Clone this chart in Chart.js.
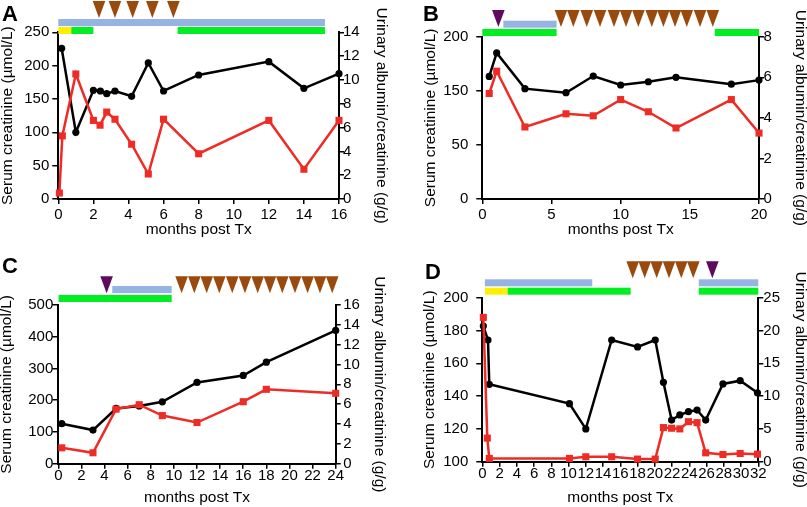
<!DOCTYPE html>
<html>
<head>
<meta charset="utf-8">
<script src="https://cdn.jsdelivr.net/npm/chart.js@4"></script>
<style>
  body { margin: 0; width: 807px; height: 507px; overflow: hidden; background: #fff; font-family: "Liberation Sans", Arial, sans-serif; }
  .panel { position: absolute; }
  .lbl { position: absolute; font-weight: bold; font-size: 22px; line-height: 22px; }
</style>
</head>
<body>
<div class="panel" style="left:0;top:0"><canvas id="cA" width="403" height="252"></canvas></div>
<div class="panel" style="left:403px;top:0"><canvas id="cB" width="407" height="252"></canvas></div>
<div class="panel" style="left:0;top:252px"><canvas id="cC" width="403" height="255"></canvas></div>
<div class="panel" style="left:403px;top:252px"><canvas id="cD" width="407" height="255"></canvas></div>
<div class="lbl" style="left:2px;top:3px">A</div>
<div class="lbl" style="left:423px;top:3px">B</div>
<div class="lbl" style="left:2px;top:255px">C</div>
<div class="lbl" style="left:425px;top:261px">D</div>
<script>
// panel A
let mesesA = [0.19, 1.0, 2.0, 2.4, 2.76, 3.23, 4.18, 5.13, 6.0, 8.0, 12.0, 14.0, 16.0];
let creatA = [226, 100, 163, 162, 158, 162, 154, 204, 162, 186, 206, 166, 188];
let mesesAlbA = [0.06, 0.23, 1.0, 2.0, 2.38, 2.76, 3.23, 4.18, 5.13, 6.0, 8.0, 12.0, 14.0, 16.0];
let albA = [0.5, 5.3, 10.5, 6.6, 6.2, 7.3, 6.7, 4.6, 2.1, 6.7, 3.8, 6.6, 2.5, 6.6];
let azulA = [[0, 15.2]];
let amareloA = [[0, 0.74]];
let verdeA = [[0.74, 2.0], [6.8, 15.2]];
let marromA = [2.32, 3.23, 4.24, 5.36, 6.56];
let roxoA = [];

// panel B
let mesesB = [0.5, 1.04, 3.08, 6.05, 8.02, 10.0, 12.0, 14.0, 18.0, 20.0];
let creatB = [151, 180, 136, 131, 151.5, 140.5, 144.5, 150, 141.5, 146.5];
let albB = [5.2, 6.3, 3.55, 4.2, 4.1, 4.9, 4.3, 3.5, 4.9, 3.25];
let ticksEsqB = [0, 66.67, 133.33, 200];
let rotulosEsqB = ["0", "50", "150", "200"];
let azulB = [[1.52, 5.37]];
let amareloB = [];
let verdeB = [[0, 5.37], [16.8, 20]];
let marromB = [5.69, 6.58, 7.55, 8.51, 9.52, 10.39, 11.28, 12.25, 13.09, 13.93, 14.78, 15.74, 16.66];
let roxoB = [1.16];

// panel C
let mesesC = [0.3, 3.0, 5.0, 7.0, 9.0, 12.0, 16.0, 18.0, 24.0];
let creatC = [126, 106, 174, 182, 195, 256, 278, 320, 420];
let albC = [1.6, 1.1, 5.5, 5.95, 4.85, 4.15, 6.25, 7.5, 7.1];
let azulC = [[4.67, 9.81]];
let amareloC = [];
let verdeC = [[0.02, 9.81]];
let marromC = [10.67, 11.77, 12.84, 13.93, 15.05, 16.15, 17.25, 18.31, 19.38, 20.48, 21.57, 22.64, 23.7];
let roxoC = [4.18];

// panel D
let mesesD = [0.12, 0.66, 0.81, 10.1, 12.0, 15.0, 18.0, 20.05, 21.0, 21.95, 22.9, 23.9, 24.9, 25.9, 27.9, 29.9, 31.9];
let creatD = [182.7, 174.2, 147.2, 135.4, 120, 174.2, 170, 174.2, 148.4, 125.4, 128.5, 130.5, 131.5, 125.4, 147.4, 149.4, 142];
let mesesAlbD = [0.12, 0.58, 0.81, 10.1, 12.0, 15.0, 18.0, 20.05, 21.0, 21.95, 22.9, 23.9, 24.9, 25.9, 27.9, 29.9, 31.9];
let albD = [22, 3.6, 0.5, 0.5, 0.75, 0.75, 0.4, 0.4, 5.2, 5.1, 5.0, 6.1, 5.95, 1.35, 1.1, 1.25, 1.15];
let azulD = [[0.3, 12.75], [25.1, 32]];
let amareloD = [[0.3, 2.94]];
let verdeD = [[2.94, 17.2], [25.1, 32]];
let marromD = [17.44, 18.83, 20.22, 21.65, 23.07, 24.46];
let roxoD = [26.67];

Chart.defaults.font.family = '"Liberation Sans", Arial, sans-serif';
Chart.defaults.color = "#000";

const pares = (xs, ys) => xs.map((x, i) => ({ x: x, y: ys[i] }));

// barras de tratamento e triangulos desenhados pela escala x
function plugTratamento(t) {
  return {
    id: "tratamento",
    afterDraw(chart) {
      const ctx = chart.ctx, sx = chart.scales.x, top = chart.chartArea.top;
      const px = v => sx.getPixelForValue(v);
      ctx.save();
      const faixa = (lista, cor, y) => {
        ctx.fillStyle = cor;
        lista.forEach(([a, b]) => ctx.fillRect(px(a), top + y, px(b) - px(a), 7));
      };
      faixa(t.azul, "#95b4e2", t.azulY);
      faixa(t.amarelo, "#ffee00", t.verdeY);
      faixa(t.verde, "#00ee22", t.verdeY);
      const tri = (lista, cor) => {
        ctx.fillStyle = cor;
        lista.forEach(m => {
          const cx = px(m), yb = top + t.triY;
          ctx.beginPath();
          ctx.moveTo(cx - 6.3, yb - 17);
          ctx.lineTo(cx + 6.3, yb - 17);
          ctx.lineTo(cx, yb);
          ctx.closePath();
          ctx.fill();
        });
      };
      tri(t.marrom, "#9a4a0c");
      tri(t.roxo, "#5e0b5e");
      ctx.restore();
    }
  };
}

function eixo(tam) {
  return {
    grid: { drawOnChartArea: false, color: "#000", lineWidth: 1.5, tickLength: tam },
    border: { color: "#000", width: 2 }
  };
}

function criarPainel(id, p) {
  const ctx = document.getElementById(id).getContext("2d");
  const W = ctx.canvas.width, H = ctx.canvas.height;
  const esq = Object.assign(eixo(6), {
    type: "linear", position: "left", min: p.esq[0], max: p.esq[1],
    ticks: { stepSize: p.esq[2], font: { size: 15 }, padding: p.padEsq, autoSkip: false },
    title: { display: true, text: "Serum creatinine (µmol/L)", font: { size: 15.5 }, padding: p.titEsq },
    afterFit: s => { s.width = p.area[0]; }
  });
  if (p.ticksEsq) {
    esq.afterBuildTicks = s => { s.ticks = p.ticksEsq.map(v => ({ value: v })); };
    esq.ticks.callback = (v, i) => p.rotulosEsq[i];
  }
  new Chart(ctx, {
    type: "line",
    data: {
      datasets: [{
        data: p.alb, yAxisID: "y1",
        borderColor: "#ee2b25", backgroundColor: "#ee2b25", borderWidth: 2.5,
        pointStyle: "rect", pointRadius: 5, pointBorderWidth: 0, tension: 0, clip: false
      }, {
        data: p.creat, yAxisID: "y",
        borderColor: "#000", backgroundColor: "#000", borderWidth: 2.5,
        pointStyle: "circle", pointRadius: 3.6, pointBorderWidth: 0, tension: 0, clip: false
      }]
    },
    options: {
      responsive: false,
      animation: false,
      devicePixelRatio: 1,
      layout: { padding: { top: p.area[2], left: 0, right: 0, bottom: 0 } },
      plugins: { legend: { display: false }, tooltip: { enabled: false } },
      scales: {
        x: Object.assign(eixo(5), {
          type: "linear", min: 0, max: p.xMax,
          ticks: { stepSize: p.xStep, font: { size: 15 }, padding: p.xPad, maxRotation: 0, autoSkip: false },
          title: { display: true, text: "months post Tx", font: { size: 15.5 }, padding: p.titX },
          afterFit: s => { s.height = H - p.area[3]; }
        }),
        y: esq,
        y1: Object.assign(eixo(5), {
          type: "linear", position: "right", min: 0, max: p.dir[0],
          ticks: { stepSize: p.dir[1], font: { size: 15 }, padding: p.padDir, autoSkip: false },
          title: { display: true, text: "Urinary albumin/creatinine (g/g)", font: { size: 15.5 }, padding: p.titDir },
          afterFit: s => { s.width = W - p.area[1]; }
        })
      }
    },
    plugins: [plugTratamento(p.trat)]
  });
}

window.onload = function () {
  criarPainel("cA", {
    creat: pares(mesesA, creatA), alb: pares(mesesAlbA, albA),
    esq: [0, 250, 50], dir: [14, 2], xMax: 16, xStep: 2, xPad: 2, padEsq: 3, padDir: -1,
    area: [58.3, 339, 32.3, 199], titEsq: -1.8, titDir: 12.2, titX: 12.7,
    trat: { azul: azulA, amarelo: amareloA, verde: verdeA, marrom: marromA, roxo: roxoA, azulY: -13.3, verdeY: -5.3, triY: -14.3 }
  });
  criarPainel("cB", {
    creat: pares(mesesB, creatB), alb: pares(mesesB, albB),
    esq: [0, 200, 50], ticksEsq: ticksEsqB, rotulosEsq: rotulosEsqB,
    dir: [8, 2], xMax: 20, xStep: 5, xPad: 2, padEsq: 8, padDir: -0.5,
    area: [79.3, 356, 36.7, 199], titEsq: 18.7, titDir: 0.7, titX: 12.7,
    trat: { azul: azulB, amarelo: amareloB, verde: verdeB, marrom: marromB, roxo: roxoB, azulY: -16, verdeY: -7.7, triY: -9.7 }
  });
  criarPainel("cC", {
    creat: pares(mesesC, creatC), alb: pares(mesesC, albC),
    esq: [0, 500, 100], dir: [16, 2], xMax: 24, xStep: 2, xPad: -2, padEsq: -1, padDir: 2.5,
    area: [58.3, 335.7, 53, 211.7], titEsq: -2.8, titDir: 14.2, titX: -0.3,
    trat: { azul: azulC, amarelo: amareloC, verde: verdeC, marrom: marromC, roxo: roxoC, azulY: -19, verdeY: -10, triY: -11.7 }
  });
  criarPainel("cD", {
    creat: pares(mesesD, creatD), alb: pares(mesesAlbD, albD),
    esq: [100, 200, 20], dir: [25, 5], xMax: 32, xStep: 2, xPad: -2, padEsq: 8, padDir: 0,
    area: [79.3, 355.3, 45.7, 209.7], titEsq: 17.7, titDir: 0.7, titX: -0.3,
    trat: { azul: azulD, amarelo: amareloD, verde: verdeD, marrom: marromD, roxo: roxoD, azulY: -18.4, verdeY: -10, triY: -19.4 }
  });
};
</script>
</body>
</html>
